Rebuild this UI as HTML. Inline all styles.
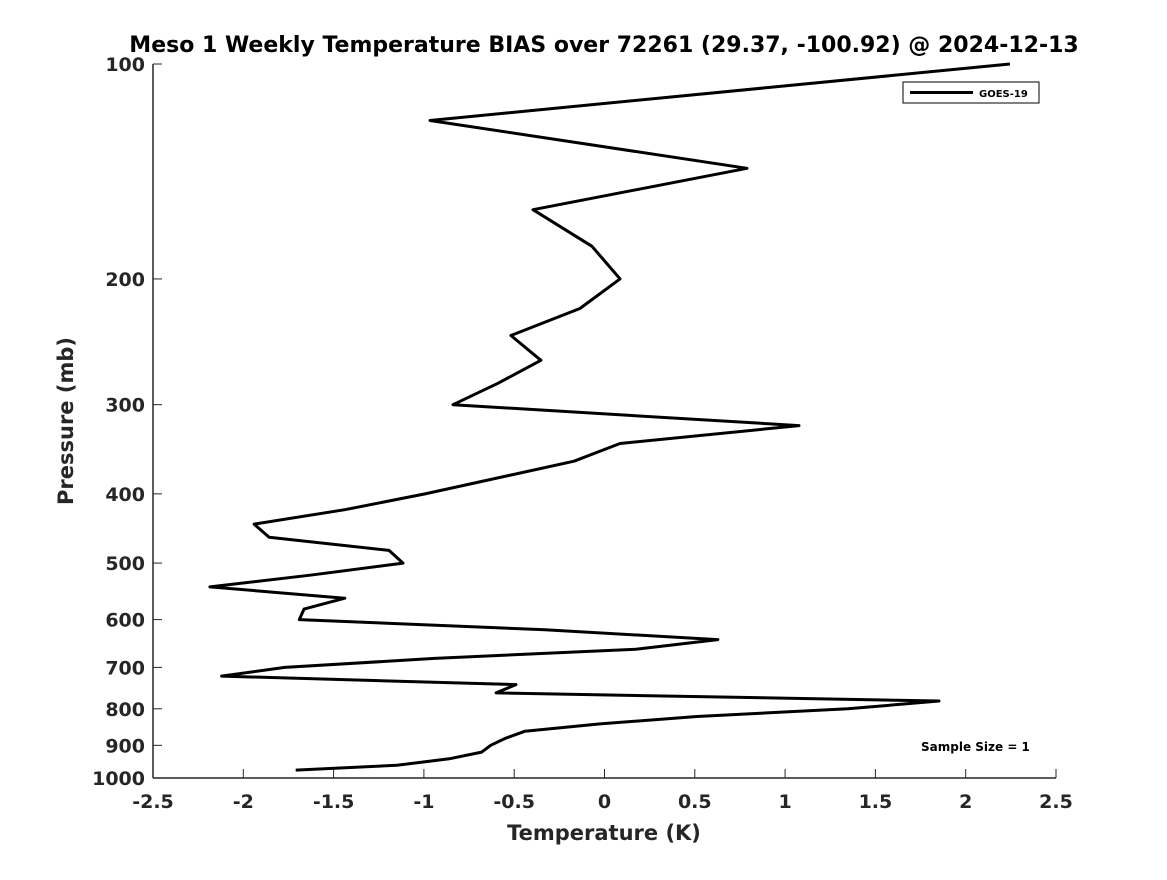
<!DOCTYPE html>
<html><head><meta charset="utf-8"><style>
body{margin:0;background:#fff;}
svg text{font-family:"DejaVu Sans","Liberation Sans",sans-serif;font-weight:bold;}
</style></head><body>
<svg id="chart" width="1167" height="875" xmlns="http://www.w3.org/2000/svg">
<rect width="1167" height="875" fill="#fff"/>
<text x="604" y="52" text-anchor="middle" font-size="22" fill="#000">Meso 1 Weekly Temperature BIAS over 72261 (29.37, -100.92) @ 2024-12-13</text>
<g id="axes"></g>
<g id="plot"></g>
<text x="604" y="840" text-anchor="middle" font-size="21" fill="#262626">Temperature (K)</text>
<text transform="translate(73,421) rotate(-90)" text-anchor="middle" font-size="21" fill="#262626">Pressure (mb)</text>
<g>
<rect x="903" y="82" width="136" height="21" fill="#fff" stroke="#000" stroke-width="1"/>
<line x1="910" y1="92.5" x2="973" y2="92.5" stroke="#000" stroke-width="3"/>
<text x="979" y="97" font-size="10" fill="#000">GOES-19</text>
</g>
<text x="921" y="751" font-size="12" fill="#000">Sample Size = 1</text>
</svg>
<script>
const temps=[2.245,-0.966,0.789,-0.396,-0.069,0.086,-0.136,-0.518,-0.352,-0.59,-0.839,1.077,0.086,-0.169,-0.994,-1.438,-1.94,-1.857,-1.193,-1.116,-1.63,-2.185,-1.438,-1.664,-1.69,-0.33,0.628,0.174,-0.94,-1.77,-2.12,-0.49,-0.6,1.852,1.348,0.512,-0.025,-0.44,-0.55,-0.63,-0.68,-0.86,-1.15,-1.71];
const pressures=[100,120,140,160,180,200,220,240,260,280,300,321,340,360,400,421,441,460,480,500,520,540,560,580,600,620,640,660,680,700,720,740,760,780,800,820,840,860,880,900,920,940,960,975];
const xTicks=[-2.5,-2,-1.5,-1,-0.5,0,0.5,1,1.5,2,2.5];
const xTickLabels=["-2.5","-2","-1.5","-1","-0.5","0","0.5","1","1.5","2","2.5"];
const yTicks=[100,200,300,400,500,600,700,800,900,1000];
const yTickLabels=["100","200","300","400","500","600","700","800","900","1000"];
const L=153,R=1056,T=64,B=778;
const xs=v=>L+(v+2.5)/5*(R-L);
const ys=p=>T+(Math.log10(p)-2)*(B-T);
const NS="http://www.w3.org/2000/svg";
function mk(tag,attrs,parent){const e=document.createElementNS(NS,tag);for(const k in attrs)e.setAttribute(k,attrs[k]);parent.appendChild(e);return e;}
const ax=document.getElementById('axes');
let a=mk('line',{x1:L,y1:T,x2:L,y2:B,stroke:'#262626','stroke-width':1.5},ax);


a=mk('line',{x1:L,y1:B,x2:R,y2:B,stroke:'#262626','stroke-width':1.5},ax);


xTicks.forEach((v,i)=>{const x=xs(v);
 const t=mk('line',{x1:x,y1:B,x2:x,y2:B-9,stroke:'#262626','stroke-width':1},ax);
 
 
 const l=mk('text',{x:x,y:B+30,'text-anchor':'middle','font-size':19,fill:'#262626'},ax);l.textContent=xTickLabels[i];
 
 });
yTicks.forEach((p,i)=>{const y=ys(p);
 const t=mk('line',{x1:L,y1:y,x2:L+9,y2:y,stroke:'#262626','stroke-width':1},ax);
 
 
 const l=mk('text',{x:L-8,y:y+7,'text-anchor':'end','font-size':19,fill:'#262626'},ax);l.textContent=yTickLabels[i];
 
 });
const pts=temps.map((t,i)=>xs(t).toFixed(1)+','+ys(pressures[i]).toFixed(1)).join(' ');
const pl=mk('polyline',{points:pts,fill:'none',stroke:'#000','stroke-width':3,'stroke-linejoin':'round'},document.getElementById('plot'));


</script>
</body></html>
